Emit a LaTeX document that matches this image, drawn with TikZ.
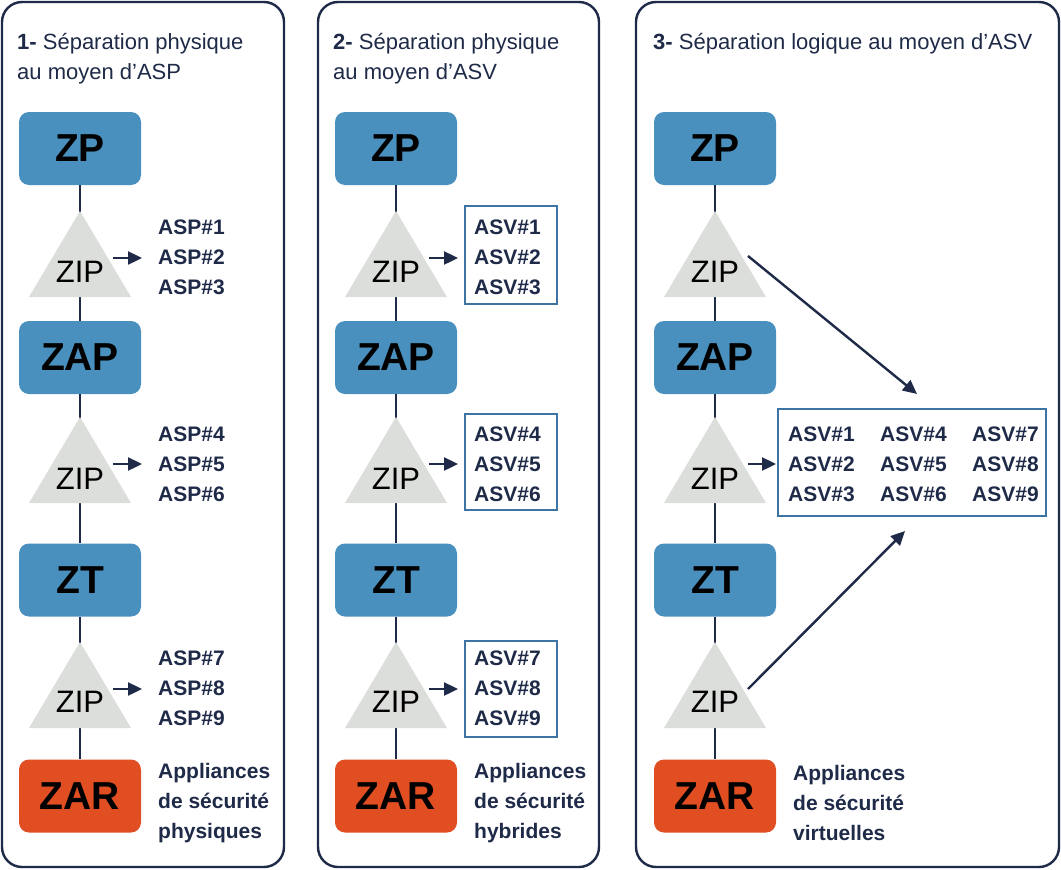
\documentclass[tikz,border=0pt]{standalone}
\usepackage{fontspec}
\setmainfont{Liberation Sans}
\usetikzlibrary{arrows.meta}
\definecolor{navy}{HTML}{1E2A47}
\definecolor{zblue}{HTML}{4A90BE}
\definecolor{zred}{HTML}{E04E22}
\definecolor{tgray}{HTML}{DCDEDB}
\definecolor{bframe}{HTML}{3D74A3}
\begin{document}
\begin{tikzpicture}[x=1pt,y=-1pt,
  panel/.style={draw=navy,line width=2.4pt,rounded corners=20pt},
  zone/.style={rounded corners=10pt,minimum width=122pt,minimum height=73pt,inner sep=0pt,
    font=\fontsize{39}{39}\selectfont\bfseries,text=black},
  zp/.style={zone,fill=zblue},
  zr/.style={zone,fill=zred},
  tri/.style={fill=tgray},
  ziplbl/.style={font=\fontsize{31}{31}\selectfont,text=black,inner sep=0pt},
  link/.style={draw=navy,line width=2.4pt},
  arr/.style={draw=navy,line width=2.4pt,-{Triangle[length=14pt,width=13pt]}},
  lst/.style={font=\fontsize{21}{30}\selectfont\bfseries,text=navy,align=left,inner sep=0pt,anchor=west},
  ttl/.style={font=\fontsize{22}{30}\selectfont,text=navy,align=left,inner sep=0pt,anchor=north west},
  asvbox/.style={draw=bframe,line width=2.2pt}
]
\useasboundingbox (0,0) rectangle (1061,870);
% panels
\draw[panel] (2,2) rectangle (284,867);
\draw[panel] (318,2) rectangle (599,867);
\draw[panel] (636,2) rectangle (1059,867);
% titles
\node[ttl] (t1) at (17,33.5) {\textbf{1-} Séparation physique\\au moyen d’ASP};
\node[ttl] (t2) at (333,33.5) {\textbf{2-} Séparation physique\\au moyen d’ASV};
\node[ttl] (t3) at (653,33.5) {\textbf{3-} Séparation logique au moyen d’ASV};

\foreach \p/\cx in {a/80,b/396,c/715}{
  \coordinate (\p zp) at (\cx,148.5);
  \coordinate (\p zap) at (\cx,357.5);
  \coordinate (\p zt) at (\cx,580);
  \coordinate (\p zar) at (\cx,796);
}
% columns
\foreach \p/\cx in {a/80,b/396,c/715}{
  \node[zp] (\p ZP) at (\p zp) {ZP};
  \node[zp] (\p ZAP) at (\p zap) {ZAP};
  \node[zp] (\p ZT) at (\p zt) {ZT};
  \node[zr] (\p ZAR) at (\p zar) {ZAR};
  \draw[link] (\p ZP.south) -- (\p ZAP.north);
  \draw[link] (\p ZAP.south) -- (\p ZT.north);
  \draw[link] (\p ZT.south) -- (\p ZAR.north);
  \fill[tri] (\cx,211) -- (\cx+51,297) -- (\cx-51,297) -- cycle;
  \fill[tri] (\cx,417) -- (\cx+51,503) -- (\cx-51,503) -- cycle;
  \fill[tri] (\cx,642) -- (\cx+51,728) -- (\cx-51,728) -- cycle;
  \node[ziplbl] (\p zip1) at (\cx,272) {ZIP};
  \node[ziplbl] (\p zip2) at (\cx,479) {ZIP};
  \node[ziplbl] (\p zip3) at (\cx,702) {ZIP};
}
% panel 1 lists
\node[lst] (l11) at (158,257) {ASP\#1\\ASP\#2\\ASP\#3};
\node[lst] (l12) at (158,464) {ASP\#4\\ASP\#5\\ASP\#6};
\node[lst] (l13) at (158,688) {ASP\#7\\ASP\#8\\ASP\#9};
\node[lst] (l14) at (158,803) {Appliances\\de sécurité\\physiques};
\draw[arr] (113,258) -- (142,258);
\draw[arr] (113,464) -- (142,464);
\draw[arr] (113,689) -- (142,689);
% panel 2
\draw[asvbox] (465,206) rectangle (557,304);
\draw[asvbox] (465,414) rectangle (557,510);
\draw[asvbox] (465,641) rectangle (557,737);
\node[lst] (l21) at (474,257) {ASV\#1\\ASV\#2\\ASV\#3};
\node[lst] (l22) at (474,464) {ASV\#4\\ASV\#5\\ASV\#6};
\node[lst] (l23) at (474,688) {ASV\#7\\ASV\#8\\ASV\#9};
\node[lst] (l24) at (474,803) {Appliances\\de sécurité\\hybrides};
\draw[arr] (429,258) -- (458,258);
\draw[arr] (429,464) -- (458,464);
\draw[arr] (429,689) -- (458,689);
% panel 3
\draw[asvbox] (778,409) rectangle (1046,516);
\node[lst] (l31) at (788,464) {ASV\#1\\ASV\#2\\ASV\#3};
\node[lst] (l32) at (880,464) {ASV\#4\\ASV\#5\\ASV\#6};
\node[lst] (l33) at (972,464) {ASV\#7\\ASV\#8\\ASV\#9};
\node[lst] (l34) at (793,803) {Appliances\\de sécurité\\virtuelles};
\coordinate (d1s) at (748,256);
\coordinate (d1e) at (917,394);
\coordinate (d3s) at (748,689);
\coordinate (d3e) at (905,531);
\draw[arr] (d1s) -- (d1e);
\draw[arr] (748,464) -- (776,464);
\draw[arr] (d3s) -- (d3e);
\end{tikzpicture}
\end{document}
